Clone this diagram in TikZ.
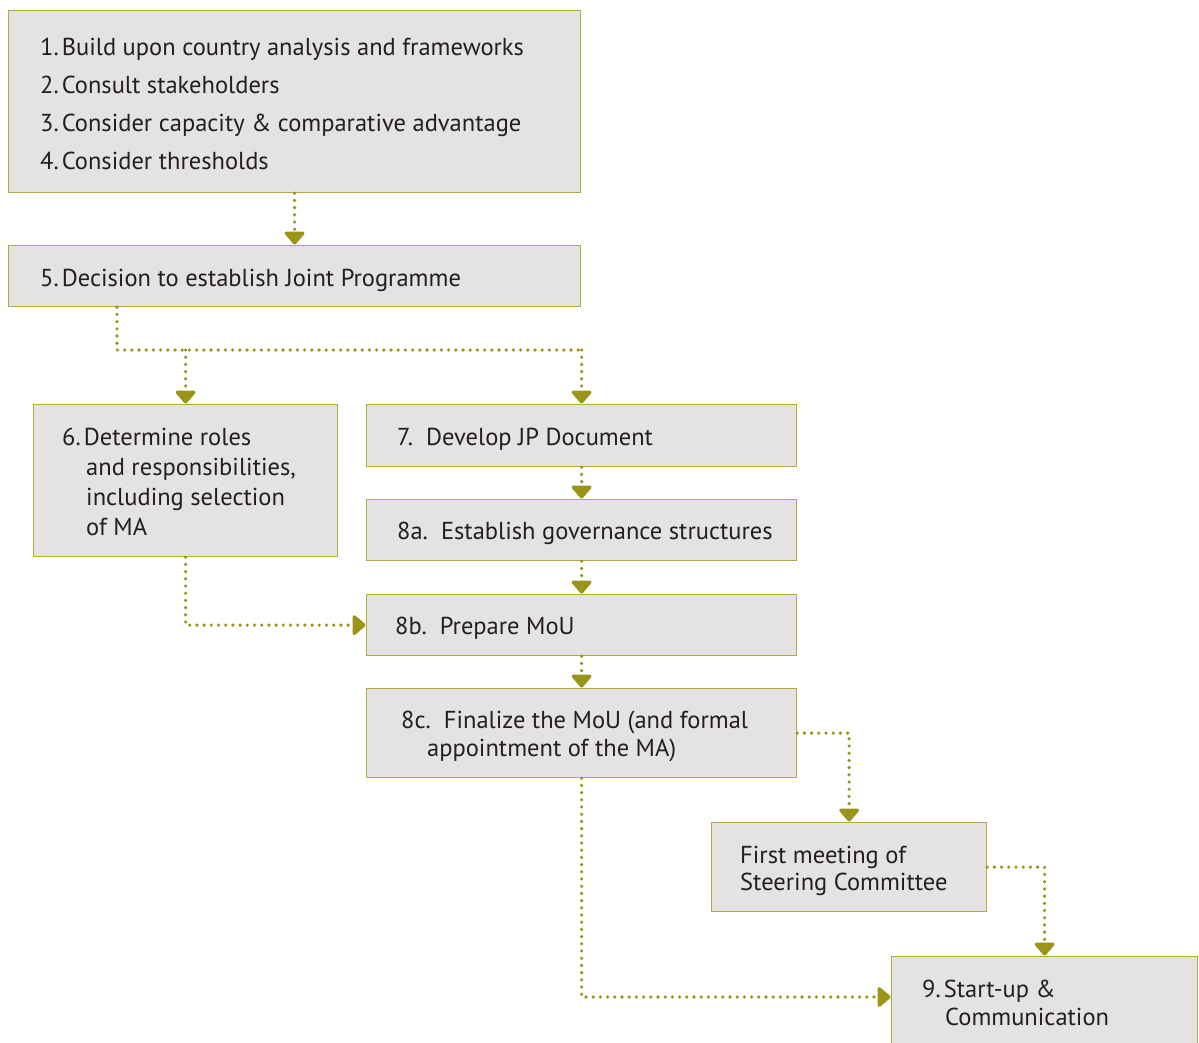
\documentclass[tikz,border=0pt]{standalone}
\usepackage{fontspec}
\setmainfont{PT Sans}
\usetikzlibrary{arrows.meta,calc}
\definecolor{olive}{HTML}{9A9418}
\definecolor{boxline}{HTML}{B3AB3C}
\definecolor{boxfill}{HTML}{E4E3E1}
\definecolor{ink}{HTML}{231F20}
\newcommand{\nsp}{\hspace{3pt}}
\begin{document}
\begin{tikzpicture}[x=1pt,y=-1pt,
  box/.style={draw=boxline, fill=boxfill, line width=1.2pt, inner sep=0pt, anchor=north west},
  txt/.style={anchor=base west, inner sep=0pt, text=ink, font=\fontsize{24.5}{28}\selectfont},
  dotline/.style={draw=olive, line width=3.6pt, line cap=round, dash pattern=on 0pt off 7.2pt},
  conn/.style={dotline, -{Triangle[width=23pt,length=14pt,fill=olive,round=false]}, shorten >=0.5pt}]
\useasboundingbox (0,0) rectangle (1199,1042);
% boxes
\node[box, minimum width=572pt, minimum height=182pt] (bA) at (8,10) {};
\node[box, minimum width=572pt, minimum height=61pt] (b5) at (8,245) {};
\node[box, minimum width=304pt, minimum height=152pt] (b6) at (33,404) {};
\node[box, minimum width=430pt, minimum height=62pt] (b7) at (366,404) {};
\node[box, minimum width=430pt, minimum height=61pt] (b8a) at (366,499) {};
\node[box, minimum width=430pt, minimum height=61pt] (b8b) at (366,594) {};
\node[box, minimum width=430pt, minimum height=89pt] (b8c) at (366,688) {};
\node[box, minimum width=275pt, minimum height=89pt] (bFM) at (711,822) {};
\node[box, minimum width=306pt, minimum height=110pt] (b9) at (891,956) {};
% texts
\node[txt] (tA1) at (40,55) {1.\nsp Build upon country analysis and frameworks};
\node[txt] (tA2) at (40,93) {2.\nsp Consult stakeholders};
\node[txt] (tA3) at (40,131) {3.\nsp Consider capacity \& comparative advantage};
\node[txt] (tA4) at (40,169) {4.\nsp Consider thresholds};
\node[txt] (t5) at (40,286) {5.\nsp Decision to establish Joint Programme};
\node[txt] (t61) at (62,445) {6.\nsp Determine roles};
\node[txt] (t62) at (86,475) {and responsibilities,};
\node[txt] (t63) at (86,505) {including selection};
\node[txt] (t64) at (86,535) {of MA};
\node[txt] (t7) at (397,445) {7.\ \ Develop JP Document};
\node[txt] (t8a) at (397,539) {8a.\ \ Establish governance structures};
\node[txt] (t8b) at (395,634) {8b.\ \ Prepare MoU};
\node[txt] (t8c1) at (401,728) {8c.\ \ Finalize the MoU (and formal};
\node[txt] (t8c2) at (427,756) {appointment of the MA)};
\node[txt] (tFM1) at (740,863) {First meeting of};
\node[txt] (tFM2) at (740,890) {Steering Committee};
\node[txt] (t91) at (922,997) {9.\nsp Start-up \&};
\node[txt] (t92) at (945,1025) {Communication};
% connectors
\draw[conn] (bA.south) -- (b5.north);
\coordinate (j) at (117,350);
\draw[dotline] (b5.south -| j) -- (j) -- (b7.north |- j);
\draw[conn] (b6.north |- j) -- (b6.north);
\draw[conn] (b7.north |- j) -- (b7.north);
\draw[conn] (b7.south) -- (b8a.north);
\draw[conn] (b8a.south) -- (b8b.north);
\draw[conn] (b6.south) |- (b8b.west);
\draw[conn] (b8b.south) -- (b8c.north);
\draw[conn] (b8c.east) -| (bFM.north);
\draw[conn] (bFM.east) -| (b9.north);
\draw[conn] (b8c.south) |- ($(b9.north west)+(0,41)$);
\end{tikzpicture}
\end{document}
